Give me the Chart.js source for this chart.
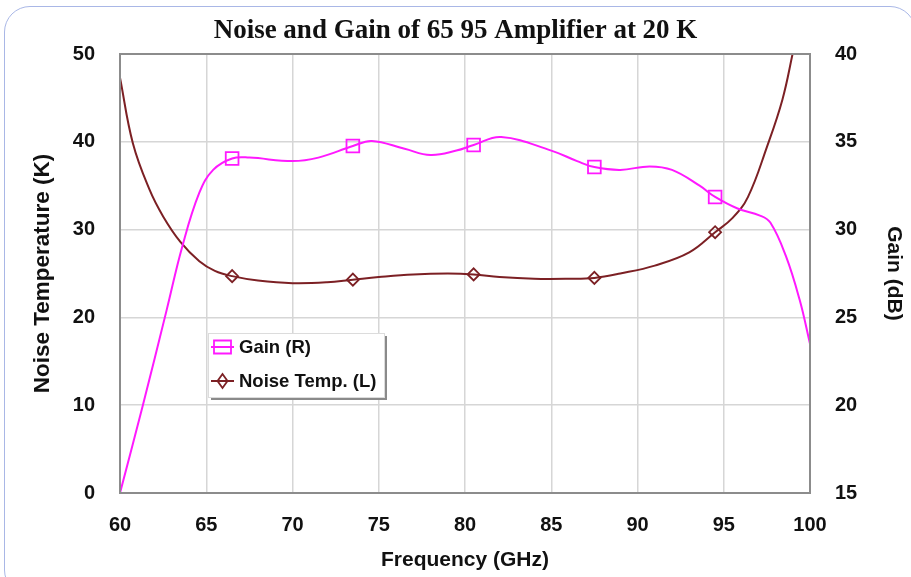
<!DOCTYPE html>
<html>
<head>
<meta charset="utf-8">
<script src="https://cdn.jsdelivr.net/npm/chart.js@4/dist/chart.umd.min.js"></script>
<style>
  html, body { margin: 0; padding: 0; background: #ffffff; overflow: hidden; }
  #wrap { position: relative; width: 911px; height: 577px; }
  #frame { position: absolute; left: 4px; top: 6px; width: 912px; height: 590px;
           border: 1.5px solid #a9b7e6; border-radius: 26px; box-sizing: border-box; pointer-events: none; }
  canvas { position: absolute; left: 0; top: 0; }
</style>
</head>
<body>
<div id="wrap">
  <canvas id="c" width="911" height="577"></canvas>
  <div id="frame"></div>
</div>
<script>
// ---- data ----
const titleText = 'Noise and Gain of 65 95 Amplifier at 20 K';
const xTitle = 'Frequency (GHz)';
const yLeftTitle = 'Noise Temperature (K)';
const yRightTitle = 'Gain (dB)';
const xTicks = [60, 65, 70, 75, 80, 85, 90, 95, 100];
const yLeftTicks = [0, 10, 20, 30, 40, 50];
const yRightTicks = [15, 20, 25, 30, 35, 40];
const markerFreqs = [66.5, 73.5, 80.5, 87.5, 94.5];

const noiseFreq = [60, 60.75, 61.7, 62.5, 63.5, 64.6, 65.5, 66.5, 68, 70, 72, 73.5, 75, 77, 79, 80.5, 82, 84, 86, 87.5, 89, 91, 93, 94.5, 95.5, 96.4, 97.5, 98.4, 99, 99.3];
const noiseTemp = [47.3, 39.8, 34.6, 31.5, 28.6, 26.4, 25.3, 24.7, 24.2, 23.9, 24.0, 24.3, 24.6, 24.9, 25.0, 24.9, 24.6, 24.4, 24.4, 24.5, 25.0, 25.9, 27.4, 29.7, 31.3, 33.7, 39.4, 44.8, 50.1, 53];

const gainFreq = [60, 61.3, 62.7, 63.6, 64.6, 65.4, 66.5, 67.5, 70, 71.5, 73.5, 74.6, 76.5, 78, 79.5, 80.5, 82.1, 85, 86.5, 87.5, 89, 90.7, 92, 93.6, 94.5, 95.8, 97.1, 97.7, 98.6, 99.4, 100];
const gainDb = [15.0, 19.9, 25.4, 29.0, 32.1, 33.4, 34.05, 34.1, 33.9, 34.1, 34.76, 35.05, 34.6, 34.25, 34.5, 34.82, 35.27, 34.5, 33.9, 33.56, 33.4, 33.6, 33.4, 32.5, 31.86, 31.2, 30.8, 30.4, 28.5, 26.0, 23.5];

const labels = ['Gain (R)', 'Noise Temp. (L)'];
// ---------------------------------------

const GAIN_COLOR = '#ff19ff';
const NOISE_COLOR = '#7c2024';

function pts(xs, ys) { return xs.map((x, i) => ({ x: x, y: ys[i] })); }
function isMarker(x) { return markerFreqs.some(m => Math.abs(m - x) < 1e-6); }

const tickFont = { family: 'Liberation Sans, Arial, sans-serif', size: 20, weight: 'bold' };
const axisTitleFont = { family: 'Liberation Sans, Arial, sans-serif', size: 21, weight: 'bold' };

const framePlugin = {
  id: 'frameLegend',
  afterDatasetsDraw(chart) {
    const { ctx, chartArea: a } = chart;
    ctx.save();
    ctx.strokeStyle = '#8c8c8c';
    ctx.lineWidth = 2;
    ctx.strokeRect(a.left, a.top, a.right - a.left, a.bottom - a.top);
    ctx.restore();
  },
  afterDraw(chart) {
    const { ctx } = chart;
    ctx.save();
    const bx = 208, by = 333, bw = 176, bh = 64;
    // shadow
    ctx.fillStyle = '#8a8a8a';
    ctx.fillRect(bx + 3, by + bh, bw, 3);
    ctx.fillRect(bx + bw, by + 3, 3, bh);
    ctx.fillStyle = '#ffffff';
    ctx.fillRect(bx, by, bw, bh);
    ctx.strokeStyle = '#dcdcdc';
    ctx.lineWidth = 1;
    ctx.strokeRect(bx + 0.5, by + 0.5, bw, bh);

    const items = [
      { y: 347, color: GAIN_COLOR, style: 'rect' },
      { y: 381, color: NOISE_COLOR, style: 'diamond' }
    ];
    items.forEach((it, i) => {
      const cx = 222.5;
      ctx.strokeStyle = it.color;
      ctx.lineWidth = 2;
      ctx.beginPath();
      ctx.moveTo(211, it.y);
      ctx.lineTo(234, it.y);
      ctx.stroke();
      ctx.lineWidth = 1.8;
      ctx.beginPath();
      if (it.style === 'rect') {
        ctx.rect(cx - 8.5, it.y - 6.5, 17, 13);
      } else {
        ctx.moveTo(cx, it.y - 7);
        ctx.lineTo(cx + 5, it.y);
        ctx.lineTo(cx, it.y + 7);
        ctx.lineTo(cx - 5, it.y);
        ctx.closePath();
      }
      ctx.stroke();
      ctx.fillStyle = '#111111';
      ctx.font = 'bold 18.5px "Liberation Sans", Arial, sans-serif';
      ctx.textBaseline = 'middle';
      ctx.textAlign = 'left';
      ctx.fillText(labels[i], 239, it.y + 1);
    });
    ctx.restore();
  }
};

new Chart(document.getElementById('c'), {
  type: 'line',
  data: {
    datasets: [
      {
        label: labels[0],
        data: pts(gainFreq, gainDb),
        yAxisID: 'y1',
        borderColor: GAIN_COLOR,
        borderWidth: 2,
        tension: 0.4,
        pointStyle: 'rect',
        pointRadius: gainFreq.map(x => isMarker(x) ? 9 : 0),
        pointBorderColor: GAIN_COLOR,
        pointBackgroundColor: 'rgba(0,0,0,0)',
        pointBorderWidth: 1.8,
        fill: false
      },
      {
        label: labels[1],
        data: pts(noiseFreq, noiseTemp),
        yAxisID: 'y',
        borderColor: NOISE_COLOR,
        borderWidth: 2,
        tension: 0.4,
        pointStyle: 'rectRot',
        pointRadius: noiseFreq.map(x => isMarker(x) ? 6 : 0),
        pointBorderColor: NOISE_COLOR,
        pointBackgroundColor: 'rgba(0,0,0,0)',
        pointBorderWidth: 1.8,
        fill: false
      }
    ]
  },
  options: {
    responsive: false,
    animation: false,
    layout: { padding: { left: 0, right: 0, top: 0, bottom: 0 } },
    plugins: {
      legend: { display: false },
      tooltip: { enabled: false },
      title: {
        display: true,
        text: titleText,
        color: '#111111',
        font: { family: 'Liberation Serif, Times New Roman, serif', size: 27, weight: 'bold' },
        padding: { top: 15, bottom: 6.6 }
      }
    },
    scales: {
      x: {
        type: 'linear',
        min: 60, max: 100,
        afterBuildTicks(s) { s.ticks = xTicks.map(v => ({ value: v })); },
        afterFit(s) { s.height = 84; },
        grid: { color: '#d6d6d6', lineWidth: 1.5, drawTicks: false },
        border: { display: false },
        ticks: { color: '#111111', font: tickFont, padding: 20, maxRotation: 0 },
        title: { display: true, text: xTitle, color: '#111111', font: axisTitleFont, padding: { top: 0, bottom: 4 } }
      },
      y: {
        type: 'linear',
        position: 'left',
        min: 0, max: 50,
        afterBuildTicks(s) { s.ticks = yLeftTicks.map(v => ({ value: v })); },
        afterFit(s) { s.width = 120; },
        grid: { color: '#d6d6d6', lineWidth: 1.5, drawTicks: false },
        border: { display: false },
        ticks: { color: '#111111', font: tickFont, padding: 25 },
        title: { display: true, text: yLeftTitle, color: '#111111', font: { family: 'Liberation Sans, Arial, sans-serif', size: 22.5, weight: 'bold' }, padding: { top: 29, bottom: 0 } }
      },
      y1: {
        type: 'linear',
        position: 'right',
        min: 15, max: 40,
        afterBuildTicks(s) { s.ticks = yRightTicks.map(v => ({ value: v })); },
        afterFit(s) { s.width = 101; },
        grid: { display: false, drawTicks: false },
        border: { display: false },
        ticks: { color: '#111111', font: tickFont, padding: 25 },
        title: { display: true, text: yRightTitle, color: '#111111', font: axisTitleFont, padding: { top: 5, bottom: 0 } }
      }
    }
  },
  plugins: [framePlugin]
});
</script>
</body>
</html>
